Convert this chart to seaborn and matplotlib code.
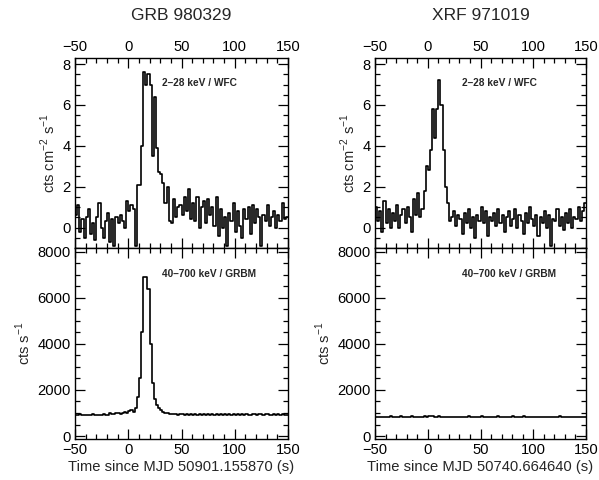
import numpy as np
import pandas as pd
import seaborn as sns
import matplotlib.pyplot as plt
from matplotlib.ticker import MultipleLocator

# 2 s bins starting at -50 s
bin_start = np.arange(-50, 150, 2)

grb_wfc = [
    0.6, 1.1, -0.2, 0.4, -0.5, 0.5, 0.9, -0.3, 0.2, -0.6,
    0.5, 1.2, 0.0, -0.5, 0.3, 0.7, -0.7, 0.4, -0.9, 0.5,
    0.2, 0.6, 0.3, 0.0, 1.3,
    0.8, 1.1, 0.9, -0.9, 2.1,
    2.1, 4.0, 7.6, 7.0, 7.5,
    7.0, 3.5, 6.4, 3.9, 2.7,
    2.6, 2.2, 1.2, 2.0, 0.3,
    0.2, 1.4, 0.5, 1.0, 1.1,
    0.6, 1.5, 0.8, 1.9, 0.4,
    1.2, 0.3, 1.5, 0.0, 1.0,
    1.3, 0.2, 1.4, 0.6, 1.0,
    0.1, 1.5, -0.4, 0.9, 0.0,
    0.5, -0.9, 0.7, 0.3, 1.2,
    -0.2, 0.8, 0.1, -0.5, 0.9,
    0.4, 1.0, -0.3, 1.1, 0.2,
    0.9, 0.5, -0.9, 0.6, 0.3,
    1.1, 0.1, 0.5, 0.8, 0.0,
    0.6, 0.3, 1.2, 0.4, 0.5,
]

grb_grbm = [
    930, 910, 940, 920, 900, 930, 910, 920, 940, 910,
    920, 930, 910, 950, 920, 930, 1000, 960, 940, 1010,
    980, 950, 1000, 1050, 990,
    1080, 1150, 1060, 1200, 1700,
    2500, 4500, 6900, 6900, 6400,
    4000, 2300, 1600, 1350, 1200,
    1150, 1050, 1000, 980, 960,
    950, 940, 960, 930, 950,
    940, 920, 950, 930, 940,
    930, 950, 920, 940, 930,
    960, 930, 940, 920, 950,
    930, 940, 920, 950, 930,
    940, 930, 950, 920, 940,
    930, 940, 920, 950, 930,
    940, 920, 930, 950, 940,
    930, 960, 940, 920, 950,
    940, 930, 920, 940, 930,
    950, 930, 940, 920, 930,
]

xrf_wfc = [
    1.0, 0.3, 0.8, -0.2, 1.3, 0.2, 0.9, 0.0, 0.7, 0.3,
    1.1, 0.0, 0.6, 0.9, 0.2, 1.0, 0.5, -0.2, 1.4, 0.6,
    1.7, 0.5, 0.9, 1.8, 3.0,
    2.8, 3.8, 5.8, 4.4, 5.8,
    7.2, 6.0, 3.8, 2.0, 1.2,
    0.3, 0.5, 0.8, 0.1, 0.6,
    0.4, -0.3, 0.7, 0.2, 0.9,
    0.0, 0.5, -0.5, 0.6, 0.3,
    1.0, 0.2, 0.8, -0.4, 0.5,
    0.3, 0.7, 0.1, 0.9, 0.2,
    0.6, -0.2, 0.5, 0.8, 0.1,
    0.4, 0.9, 0.0, 0.6, 0.3,
    -0.3, 0.7, 0.2, 1.0, 0.4,
    0.1, 0.6, -0.4, 0.5, 0.2,
    0.8, 0.0, 0.6, -0.9, 0.4,
    0.3, 0.9, 0.1, 0.5, -0.1,
    0.7, 0.2, 0.9, 0.0, 0.5,
    0.4, 1.0, 0.3, 0.8, 1.2,
]

xrf_grbm = [
    840, 820, 830, 810, 840, 830, 820, 850, 830, 820,
    840, 830, 850, 830, 820, 840, 830, 850, 840, 830,
    820, 840, 830, 850, 840,
    860, 870, 850, 840, 830,
    850, 840, 820, 830, 840,
    830, 820, 840, 830, 810,
    830, 840, 820, 830, 850,
    840, 830, 820, 840, 830,
    850, 830, 840, 820, 830,
    840, 830, 820, 850, 830,
    840, 820, 830, 840, 830,
    850, 830, 820, 840, 830,
    860, 840, 830, 820, 840,
    830, 840, 820, 830, 840,
    830, 820, 840, 830, 820,
    840, 830, 850, 830, 840,
    820, 830, 840, 830, 820,
    830, 840, 820, 830, 820,
]

panels = [
    ("GRB 980329", "50901.155870", grb_wfc, grb_grbm),
    ("XRF 971019", "50740.664640", xrf_wfc, xrf_grbm),
]

sns.set_theme(style="ticks")
plt.rcParams["font.family"] = ["Liberation Sans", "DejaVu Sans"]

fig = plt.figure(figsize=(5.99, 4.8), dpi=100)
lefts = [75 / 599, 375 / 599]
widths = [213 / 599, 211 / 599]
FS = 10.6


def step_df(values):
    # repeat the last value so the last bin gets drawn to 150 s
    t = np.append(bin_start, bin_start[-1] + 2)
    v = np.append(values, values[-1])
    return pd.DataFrame({"t": t, "v": v})


def style_axis(ax, ymin, ymax, ymaj, ymin_step):
    ax.set_xlim(-50, 150)
    ax.set_ylim(ymin, ymax)
    ax.xaxis.set_major_locator(MultipleLocator(50))
    ax.xaxis.set_minor_locator(MultipleLocator(10))
    ax.yaxis.set_major_locator(MultipleLocator(ymaj))
    ax.yaxis.set_minor_locator(MultipleLocator(ymin_step))
    ax.tick_params(which="both", direction="in", top=True, right=True,
                   labelsize=FS, width=0.9, colors="black", pad=3)
    ax.tick_params(which="major", length=7)
    ax.tick_params(which="minor", length=3.5)
    for s in ax.spines.values():
        s.set_linewidth(1.0)
        s.set_color("black")


for i, (name, mjd, wfc, grbm) in enumerate(panels):
    ax_top = fig.add_axes([lefts[i], 1 - 248 / 480, widths[i], 190 / 480])
    ax_bot = fig.add_axes([lefts[i], 1 - 439 / 480, widths[i], 191 / 480])

    sns.lineplot(data=step_df(wfc), x="t", y="v", ax=ax_top, color="black",
                 linewidth=1.2, drawstyle="steps-post")
    style_axis(ax_top, -1.0, 8.3, 2, 0.5)
    ax_top.tick_params(labelbottom=False, labeltop=True)
    ax_top.set_xlabel("")
    ax_top.set_ylabel("cts cm$^{\\mathregular{-2}}$ s$^{\\mathregular{-1}}$",
                      fontsize=FS, labelpad=3)
    ax_top.text(0.41, 0.87, "2\u201328 keV / WFC", transform=ax_top.transAxes,
                fontsize=7.3, fontweight="bold", va="center")
    ax_top.set_title(name, fontsize=12.5, pad=27)

    sns.lineplot(data=step_df(grbm), x="t", y="v", ax=ax_bot, color="black",
                 linewidth=1.2, drawstyle="steps-post")
    style_axis(ax_bot, -130, 8170, 2000, 500)
    ax_bot.set_ylabel("cts s$^{\\mathregular{-1}}$", fontsize=FS, labelpad=3)
    ax_bot.set_xlabel(f"Time since MJD {mjd} (s)", fontsize=FS, labelpad=2)
    ax_bot.text(0.41, 0.865, "40\u2013700 keV / GRBM", transform=ax_bot.transAxes,
                fontsize=7.3, fontweight="bold", va="center")

fig.savefig("out.png", dpi=100)
